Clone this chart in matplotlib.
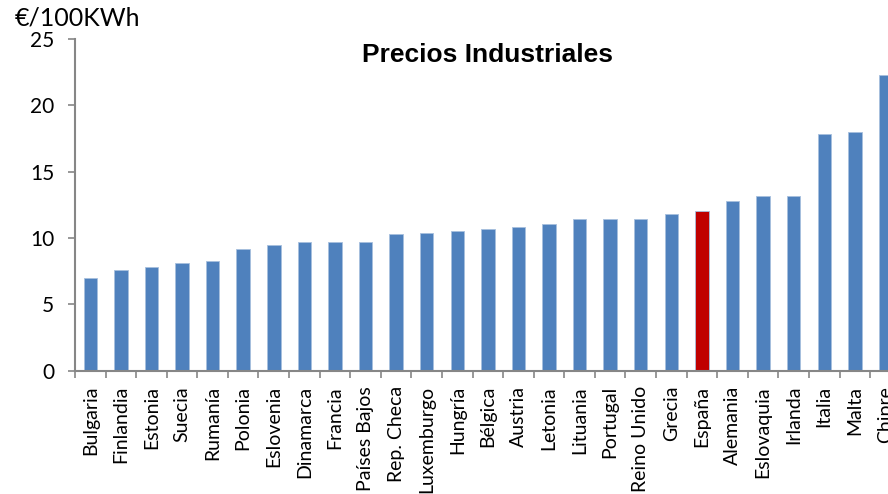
import numpy as np
import matplotlib
matplotlib.use('Agg')
import matplotlib.pyplot as plt

# precios de la electricidad para la industria (€/100KWh)
paises = ['Bulgaria', 'Finlandia', 'Estonia', 'Suecia', 'Rumanía', 'Polonia',
          'Eslovenia', 'Dinamarca', 'Francia', 'Países Bajos', 'Rep. Checa',
          'Luxemburgo', 'Hungría', 'Bélgica', 'Austria', 'Letonia', 'Lituania',
          'Portugal', 'Reino Unido', 'Grecia', 'España', 'Alemania',
          'Eslovaquia', 'Irlanda', 'Italia', 'Malta', 'Chipre']
precios = [7.0, 7.6, 7.8, 8.1, 8.3, 9.2, 9.45, 9.7, 9.7, 9.7, 10.3, 10.4,
           10.55, 10.7, 10.8, 11.05, 11.4, 11.4, 11.4, 11.8, 12.0, 12.8,
           13.2, 13.2, 17.85, 18.0, 22.3]
y_ticks = [0, 5, 10, 15, 20, 25]

azul = '#4F81BD'
rojo = '#C00000'
gris = '#868686'
fuente = 'Lato'

W, H = 888, 494
fig = plt.figure(figsize=(W / 100, H / 100), dpi=100)
# el eje sigue más allá del borde derecho (Chipre queda cortado)
ax = fig.add_axes([75 / W, (H - 370.7) / H, 825.7 / W, 331.8 / H])

x = np.arange(len(paises))
colores = [rojo if p == 'España' else azul for p in paises]
ax.bar(x, precios, width=0.44, color=colores, edgecolor='#A7BFDE',
       linewidth=0.6, zorder=2)

ax.set_xlim(-0.5, len(paises) - 0.5)
ax.set_ylim(0, 25)
ax.set_yticks(y_ticks)
ax.set_yticklabels([str(v) for v in y_ticks], fontsize=15, family=fuente)

# marcas en los límites entre categorías, etiquetas en el centro
ax.set_xticks(np.arange(len(paises) + 1) - 0.5)
ax.set_xticklabels([])
ax.set_xticks(x, minor=True)
ax.set_xticklabels(paises, minor=True, rotation=90, fontsize=14,
                   family=fuente, va='top', ha='center')
ax.tick_params(axis='x', which='minor', length=0, pad=11)
ax.tick_params(axis='x', which='major', length=5, width=1.2, color=gris)
ax.tick_params(axis='y', length=5, width=1.2, color=gris, pad=10)

for lado in ['top', 'right']:
    ax.spines[lado].set_visible(False)
for lado in ['left', 'bottom']:
    ax.spines[lado].set_color(gris)
    ax.spines[lado].set_linewidth(1.5)

ax.text(0.5, 0.95, 'Precios Industriales', transform=ax.transAxes,
        ha='center', va='center', fontsize=19, fontweight='bold',
        family='Liberation Sans')
fig.text(15 / W, 1 - 18 / H, '€/100KWh', ha='left', va='center',
         fontsize=18, family=fuente)

fig.savefig('out.png', dpi=100)
